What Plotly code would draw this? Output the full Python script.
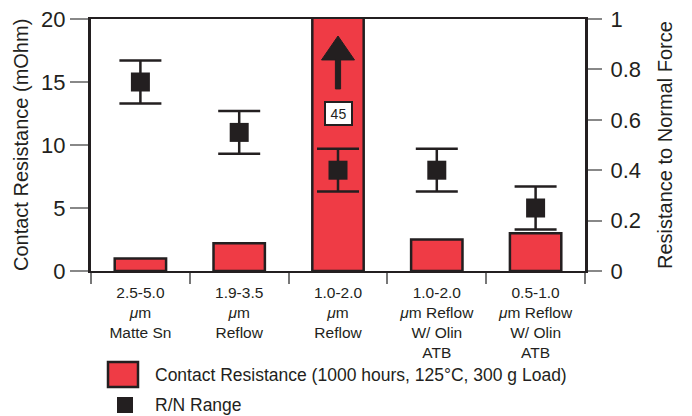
import plotly.graph_objects as go

# ---- data ----
categories = [
    "2.5-5.0<br><i>μ</i>m<br>Matte Sn",
    "1.9-3.5<br><i>μ</i>m<br>Reflow",
    "1.0-2.0<br><i>μ</i>m<br>Reflow",
    "1.0-2.0<br><i>μ</i>m Reflow<br>W/ Olin<br>ATB",
    "0.5-1.0<br><i>μ</i>m Reflow<br>W/ Olin<br>ATB",
]
contact_resistance = [1.0, 2.2, 45.0, 2.5, 3.0]          # mOhm
rn_range = [0.75, 0.55, 0.40, 0.40, 0.25]                 # resistance / normal force
rn_err_plus = [0.085, 0.085, 0.085, 0.085, 0.085]
rn_err_minus = [0.085, 0.085, 0.085, 0.085, 0.085]
offscale_label = "45"

FONT = "Liberation Sans, Arial, Helvetica, sans-serif"
INK = "#231f20"
RED = "#ef3b45"

# page body has an 8px default margin; compensate so marks land on the window pixels
OFF = 8
W, H = 692 - OFF, 416 - OFF
# plot area in window pixels
L, R, T, B = 91, 585, 19, 271
def px(xp):
    return (xp - L) / (R - L)
def py(yp):
    return (B - yp) / (B - T)

fig = go.Figure()

fig.add_trace(go.Bar(
    x=categories, y=contact_resistance,
    marker=dict(color=RED, line=dict(color=INK, width=2.5)),
    name="Contact Resistance (1000 hours, 125°C, 300 g Load)",
    showlegend=False, yaxis="y",
))

fig.add_trace(go.Scatter(
    x=categories, y=rn_range, mode="markers", yaxis="y2",
    marker=dict(symbol="square", size=19, color=INK),
    error_y=dict(type="data", array=rn_err_plus, arrayminus=rn_err_minus,
                 thickness=2.5, width=21, color=INK),
    name="R/N Range", showlegend=False,
))

# upward arrow on the off-scale bar (middle category)
xc = 0.5
hw = 16.5 / (R - L)
sw = 2.6 / (R - L)
tip, base, bottom = 18.65, 16.75, 14.45
fig.add_shape(type="path", xref="paper", yref="y",
              path=(f"M {xc} {tip} L {xc + hw} {base} L {xc + sw} {base} "
                    f"L {xc + sw} {bottom} L {xc - sw} {bottom} L {xc - sw} {base} "
                    f"L {xc - hw} {base} Z"),
              fillcolor=INK, line=dict(color=INK, width=1))

fig.add_annotation(x=2, y=12.54, xref="x", yref="y", text=offscale_label,
                   showarrow=False, bgcolor="white", bordercolor=INK,
                   borderwidth=2, borderpad=2, width=21, height=17,
                   xanchor="center", yanchor="middle",
                   font=dict(family=FONT, size=14, color=INK))

# axis titles
fig.add_annotation(x=px(21), y=0.5, xref="paper", yref="paper",
                   xanchor="center", yanchor="middle",
                   text="Contact Resistance (mOhm)", textangle=-90,
                   showarrow=False, font=dict(family=FONT, size=20, color=INK))
fig.add_annotation(x=px(665), y=0.5, xref="paper", yref="paper",
                   xanchor="center", yanchor="middle",
                   text="Resistance to Normal Force", textangle=-90,
                   showarrow=False, font=dict(family=FONT, size=20, color=INK))

# legend (drawn manually)
fig.add_shape(type="rect", xref="paper", yref="paper",
              x0=px(108), x1=px(138), y0=py(387), y1=py(362),
              fillcolor=RED, line=dict(color=INK, width=2.5))
fig.add_annotation(x=px(153), y=py(375), xref="paper", yref="paper",
                   xanchor="left", yanchor="middle", showarrow=False,
                   text="Contact Resistance (1000 hours, 125°C, 300 g Load)",
                   font=dict(family=FONT, size=17.5, color=INK))
fig.add_shape(type="rect", xref="paper", yref="paper",
              x0=px(117), x1=px(133), y0=py(413), y1=py(397),
              fillcolor=INK, line=dict(color=INK, width=0))
fig.add_annotation(x=px(153), y=py(405), xref="paper", yref="paper",
                   xanchor="left", yanchor="middle", showarrow=False,
                   text="R/N Range",
                   font=dict(family=FONT, size=17.5, color=INK))

fig.update_layout(
    width=W, height=H,
    margin=dict(l=L - OFF, r=692 - R, t=T - OFF, b=416 - B, autoexpand=False),
    paper_bgcolor="white", plot_bgcolor="white",
    bargap=0.48,
    font=dict(family=FONT, color=INK),
    xaxis=dict(
        type="category", showline=True, linecolor=INK, linewidth=2, mirror=True,
        ticks="outside", tickson="boundaries", ticklen=11, tickcolor="#777",
        tickwidth=1.5, showgrid=False, zeroline=False, automargin=False,
        ticklabelstandoff=6,
        tickfont=dict(family=FONT, size=15.5, color=INK),
    ),
    yaxis=dict(
        range=[0, 20], dtick=5, showline=True, linecolor=INK, linewidth=3,
        ticks="outside", ticklen=18, tickcolor="#888", tickwidth=1.5,
        showgrid=False, zeroline=False, automargin=False,
        ticklabeloverflow="allow",
        tickfont=dict(family=FONT, size=22, color=INK),
    ),
    yaxis2=dict(
        range=[0, 1], dtick=0.2, overlaying="y", side="right",
        showline=True, linecolor=INK, linewidth=3,
        ticks="outside", ticklen=14, tickcolor="#888", tickwidth=1.5,
        showgrid=False, zeroline=False, automargin=False,
        ticklabeloverflow="allow", ticklabelstandoff=4,
        tickfont=dict(family=FONT, size=22, color=INK),
    ),
)

fig.write_html("out.html")
